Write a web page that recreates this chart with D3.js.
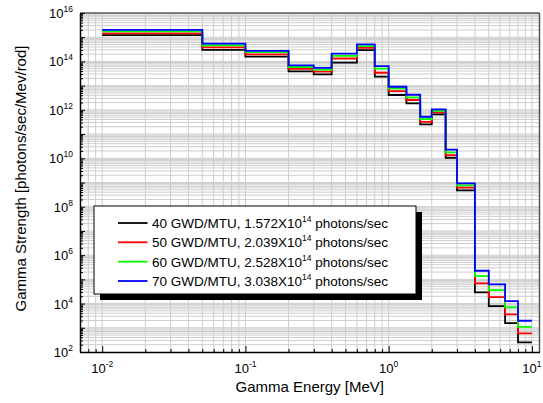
<!DOCTYPE html>
<html>
<head>
<meta charset="utf-8">
<script src="https://cdn.jsdelivr.net/npm/d3@7"></script>
<style>
  body { margin: 0; background: #fff; }
  text { font-family: "Liberation Sans", Arial, sans-serif; }
</style>
</head>
<body>
<svg id="chart"></svg>
<script>
// group boundaries (MeV), 18 gamma groups
const edges = [0.01, 0.05, 0.1, 0.2, 0.3, 0.4, 0.6, 0.8, 1.0, 1.33, 1.66, 2.0, 2.5, 3.0, 4.0, 5.0, 6.5, 8.0, 10.0];

const gwd40 = [1.23e15, 3.0e14, 1.57e14, 3.9e13, 2.94e13, 8.9e13, 2.95e14, 2.35e13, 4.1e12, 1.86e12, 2.5e11, 6.5e11, 1.05e10, 4.75e8, 2.9e4, 7.9e3, 1.57e3, 2.5e2];
const gwd50 = [1.45e15, 3.8e14, 1.97e14, 4.9e13, 3.76e13, 1.32e14, 3.6e14, 3.4e13, 5.9e12, 2.55e12, 3.2e11, 7.9e11, 1.36e10, 6.1e8, 6.8e4, 1.86e4, 3.6e3, 5.9e2];
const gwd60 = [1.75e15, 4.6e14, 2.4e14, 5.9e13, 4.6e13, 1.7e14, 4.3e14, 5.0e13, 7.8e12, 3.3e12, 4.2e11, 9.2e11, 1.76e10, 7.6e8, 1.37e5, 3.6e4, 7.0e3, 1.1e3];
const gwd70 = [2.0e15, 5.4e14, 2.75e14, 6.9e13, 5.4e13, 2.1e14, 5.1e14, 6.4e13, 9.0e12, 4.2e12, 5.2e11, 1.05e12, 2.26e10, 9.2e8, 2.27e5, 6.2e4, 1.27e4, 1.95e3];

const seriesNames = ["40 GWD/MTU, 1.572X10", "50 GWD/MTU, 2.039X10", "60 GWD/MTU, 2.528X10", "70 GWD/MTU, 3.038X10"];
const seriesColors = ["#000000", "#ff0000", "#00ff00", "#0000ff"];

const xLabelExp = [-2, -1, 0, 1];
const yLabelExp = [2, 4, 6, 8, 10, 12, 14, 16];

const margin = { top: 13, right: 3.5, bottom: 51, left: 80 };
const width = 543 - margin.left - margin.right;
const height = 403 - margin.top - margin.bottom;

const svg = d3.select("#chart").attr("width", 543).attr("height", 403);
const g = svg.append("g").attr("transform", `translate(${margin.left},${margin.top})`);

const x = d3.scaleLog().domain([0.007, 11.3]).range([0, width]);
const y = d3.scaleLog().domain([1e2, 1e16]).range([height, 0]);

// grid
const xGrid = x.ticks().filter(d => x(d) > 0.5 && x(d) < width - 0.5);
const yGrid = y.ticks(20).filter(d => y(d) > 0.5 && y(d) < height - 0.5);

g.append("g").selectAll("line").data(xGrid).join("line")
  .attr("x1", d => x(d)).attr("x2", d => x(d))
  .attr("y1", 0).attr("y2", height)
  .attr("stroke", "#cdcdcd").attr("stroke-width", 1);

g.append("g").selectAll("line").data(yGrid).join("line")
  .attr("x1", 0).attr("x2", width)
  .attr("y1", d => y(d)).attr("y2", d => y(d))
  .attr("stroke", "#cdcdcd").attr("stroke-width", 1);

// series
const line = d3.line()
  .x(d => x(d[0]))
  .y(d => y(d[1]))
  .curve(d3.curveStepAfter);

const allSeries = [gwd40, gwd50, gwd60, gwd70];
allSeries.forEach((vals, i) => {
  const pts = vals.map((v, k) => [edges[k], v]);
  pts.push([edges[edges.length - 1], vals[vals.length - 1]]);
  g.append("path")
    .datum(pts)
    .attr("d", line)
    .attr("fill", "none")
    .attr("stroke", seriesColors[i])
    .attr("stroke-width", 1.8);
});

// frame top/right
g.append("line").attr("x1", 0).attr("x2", width).attr("y1", 0).attr("y2", 0)
  .attr("stroke", "#555").attr("stroke-width", 1.5);
g.append("line").attr("x1", width).attr("x2", width).attr("y1", 0).attr("y2", height)
  .attr("stroke", "#555").attr("stroke-width", 1.5);

// axes with inward ticks
const isMajor = d => Math.abs(Math.log10(d) - Math.round(Math.log10(d))) < 1e-6;

const xAxis = g.append("g").attr("transform", `translate(0,${height})`)
  .call(d3.axisBottom(x).tickValues(xGrid.concat([0.007])).tickSize(0).tickFormat(""));
xAxis.select(".domain").attr("stroke", "#000").attr("stroke-width", 1.5);
xAxis.selectAll(".tick line").attr("y2", d => isMajor(d) ? -6 : -3).attr("stroke", "#000").attr("stroke-width", 1);

const yAxis = g.append("g")
  .call(d3.axisLeft(y).tickValues(y.ticks(20)).tickSize(0).tickFormat(""));
yAxis.select(".domain").attr("stroke", "#000").attr("stroke-width", 1.5);
yAxis.selectAll(".tick line").attr("x2", d => isMajor(d) ? 5 : 3).attr("stroke", "#000").attr("stroke-width", 1);

// tick labels with superscripts
const xl = g.append("g").selectAll("text").data(xLabelExp).join("text")
  .attr("x", d => x(Math.pow(10, d)))
  .attr("y", height + 21)
  .attr("text-anchor", "middle")
  .attr("font-size", 13);
xl.append("tspan").text("10");
xl.append("tspan").attr("font-size", 8.5).attr("dy", -6).text(d => d);

const yl = g.append("g").selectAll("text").data(yLabelExp).join("text")
  .attr("x", -7)
  .attr("y", d => y(Math.pow(10, d)) + 5)
  .attr("text-anchor", "end")
  .attr("font-size", 13);
yl.append("tspan").text("10");
yl.append("tspan").attr("font-size", 8.5).attr("dy", -6).text(d => d);

// axis titles
svg.append("text")
  .attr("x", margin.left + width / 2)
  .attr("y", 392)
  .attr("text-anchor", "middle")
  .attr("font-size", 15)
  .text("Gamma Energy [MeV]");

svg.append("text")
  .attr("transform", `translate(26,${margin.top + height / 2 - 4}) rotate(-90)`)
  .attr("text-anchor", "middle")
  .attr("font-size", 15)
  .text("Gamma Strength [photons/sec/Mev/rod]");

// legend
const lg = svg.append("g");
lg.append("rect").attr("x", 100).attr("y", 212).attr("width", 322).attr("height", 88).attr("fill", "#000");
lg.append("rect").attr("x", 94).attr("y", 206).attr("width", 322).attr("height", 88)
  .attr("fill", "#fff").attr("stroke", "#000").attr("stroke-width", 1);

const rowY = [223, 242.3, 261.7, 281];
seriesNames.forEach((name, i) => {
  lg.append("line").attr("x1", 118).attr("x2", 147.5).attr("y1", rowY[i]).attr("y2", rowY[i])
    .attr("stroke", seriesColors[i]).attr("stroke-width", 1.8);
  const t = lg.append("text").attr("x", 152).attr("y", rowY[i] + 5).attr("font-size", 13.5);
  t.append("tspan").text(name);
  t.append("tspan").attr("font-size", 8.5).attr("dy", -6).text("14");
  t.append("tspan").attr("dy", 6).text(" photons/sec");
});
</script>
</body>
</html>
